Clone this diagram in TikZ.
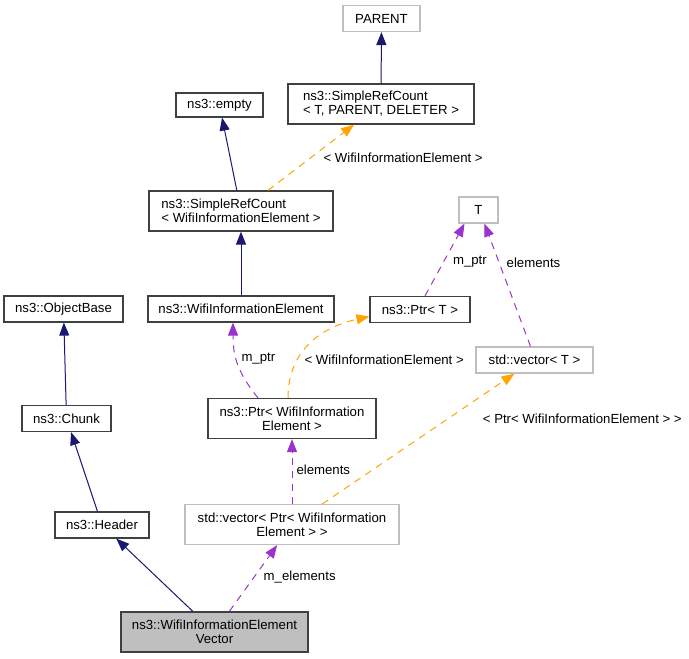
\documentclass[tikz,border=0pt]{standalone}
\usepackage{fontspec}
\setmainfont{Liberation Sans}
\usetikzlibrary{arrows.meta}
\definecolor{dxnavy}{HTML}{191970}
\definecolor{dxorange}{HTML}{FFA500}
\definecolor{dxpurple}{HTML}{9A32CD}
\definecolor{dxgray}{HTML}{BFBFBF}
\tikzset{
  cls/.style={draw=black!75, line width=1.2pt, fill=white, inner sep=2pt,
    font=\fontsize{13.2}{14}\selectfont, minimum height=26pt},
  ext/.style={cls, draw=dxgray},
  inh/.style={-{Triangle[length=13pt,width=10pt]}, dxnavy, line width=1pt},
  tmpl/.style={-{Triangle[length=13pt,width=10pt]}, dxorange, line width=1pt, dash pattern=on 7pt off 6pt},
  memb/.style={-{Triangle[length=13pt,width=10pt]}, dxpurple, line width=1pt, dash pattern=on 7pt off 6pt},
  lbl/.style={font=\fontsize{13.2}{14}\selectfont, text=black, inner sep=1pt}
}
\begin{document}
\begin{tikzpicture}[x=1pt, y=-1pt]
    \useasboundingbox (0,0) rectangle (689,659);
    \node[ext, minimum width=77pt] (parent) at (381.5,18.5) {PARENT};
    \node[cls, minimum width=186pt, minimum height=40pt, align=left] (srcTPD) at (381,104) {ns3::SimpleRefCount\\< T, PARENT, DELETER >};
    \node[cls, minimum width=87pt, minimum height=24pt] (empty) at (219.5,105) {ns3::empty};
    \node[cls, minimum width=184pt, minimum height=40pt, align=left] (srcWIE) at (241,211) {ns3::SimpleRefCount\\< WifiInformationElement >};
    \node[ext, minimum width=39pt] (T) at (478.5,210) {T};
    \node[cls, minimum width=186pt] (wie) at (241,309) {ns3::WifiInformationElement};
    \node[cls, minimum width=119pt] (objBase) at (63.5,309) {ns3::ObjectBase};
    \node[cls, minimum width=89pt] (chunk) at (66.5,418.5) {ns3::Chunk};
    \node[cls, minimum width=100pt] (ptrT) at (420,309.5) {ns3::Ptr< T >};
    \node[ext, minimum width=117pt] (vecT) at (534.5,360) {std::vector< T >};
    \node[cls, minimum width=168pt, minimum height=40pt, align=center] (ptrWIE) at (292,418.5) {ns3::Ptr< WifiInformation\\Element >};
    \node[ext, minimum width=214pt, minimum height=40pt, align=center] (vecPtr) at (292,524.5) {std::vector< Ptr< WifiInformation\\Element > >};
    \node[cls, minimum width=94pt] (header) at (102,525) {ns3::Header};
    \node[cls, fill=dxgray, minimum width=187pt, minimum height=40pt, align=center] (wiev) at (214.5,632) {ns3::WifiInformationElement\\Vector};
    % inheritance
    \draw[inh] (srcTPD) -- (parent);
    \draw[inh] (srcWIE) -- (empty);
    \draw[inh] (wie) -- (srcWIE);
    \draw[inh] (chunk) -- (objBase);
    \draw[inh] (header) -- (chunk);
    \draw[inh] (wiev) -- (header);
    % template instances
    \draw[tmpl] (srcWIE) -- node[lbl, pos=0.5, anchor=west, xshift=11pt] {< WifiInformationElement >} (srcTPD);
    \draw[tmpl] ([xshift=-4pt]ptrWIE.north) .. controls +(0,-50) and +(-45,10) .. node[lbl, pos=0.3, anchor=west, xshift=6pt] {< WifiInformationElement >} ([yshift=-7pt]ptrT.west);
    \draw[tmpl] (vecPtr) -- node[lbl, pos=0.656, anchor=west, xshift=33pt] {< Ptr< WifiInformationElement > >} (vecT);
    % members
    \draw[memb] ([xshift=5pt]ptrT.north) -- node[lbl, pos=0.47, anchor=west, xshift=8pt] {m\_ptr} ([xshift=-14pt]T.south);
    \draw[memb] ([xshift=-4pt]vecT.north) -- node[lbl, pos=0.68, anchor=west, xshift=6pt] {elements} ([xshift=6pt]T.south);
    \draw[memb] ([xshift=-34pt]ptrWIE.north) .. controls +(-20,-25) and +(0,35) .. node[lbl, pos=0.5, anchor=west, xshift=2pt, yshift=5pt] {m\_ptr} ([xshift=-8pt]wie.south);
    \draw[memb] (vecPtr) -- node[lbl, pos=0.52, anchor=west, xshift=3pt] {elements} (ptrWIE);
    \draw[memb] (wiev) -- node[lbl, pos=0.52, anchor=west, xshift=8pt] {m\_elements} (vecPtr);
\end{tikzpicture}
\end{document}
